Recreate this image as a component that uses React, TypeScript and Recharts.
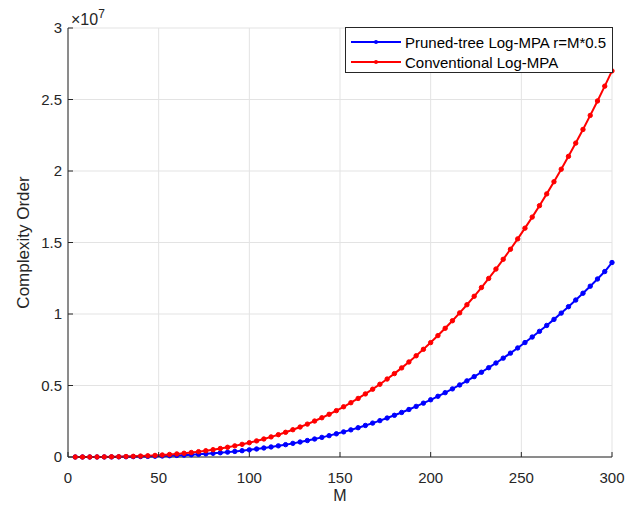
import {
  LineChart,
  Line,
  XAxis,
  YAxis,
  CartesianGrid,
} from "recharts";

// M values (4:4:300)
const mValues = [
  4, 8, 12, 16, 20, 24, 28, 32, 36, 40, 44, 48, 52, 56, 60, 64, 68, 72, 76, 80,
  84, 88, 92, 96, 100, 104, 108, 112, 116, 120, 124, 128, 132, 136, 140, 144,
  148, 152, 156, 160, 164, 168, 172, 176, 180, 184, 188, 192, 196, 200, 204,
  208, 212, 216, 220, 224, 228, 232, 236, 240, 244, 248, 252, 256, 260, 264,
  268, 272, 276, 280, 284, 288, 292, 296, 300,
];

// complexity, in millions
const prunedValues = [
  0.0, 0.0, 0.001, 0.002, 0.004, 0.007, 0.011, 0.016, 0.023, 0.032, 0.043,
  0.055, 0.07, 0.088, 0.108, 0.131, 0.157, 0.187, 0.219, 0.256, 0.296, 0.341,
  0.389, 0.442, 0.5, 0.562, 0.63, 0.702, 0.78, 0.864, 0.953, 1.049, 1.15,
  1.258, 1.372, 1.493, 1.621, 1.756, 1.898, 2.048, 2.205, 2.371, 2.544, 2.726,
  2.916, 3.115, 3.322, 3.539, 3.765, 4.0, 4.245, 4.499, 4.764, 5.039, 5.324,
  5.62, 5.926, 6.244, 6.572, 6.912, 7.263, 7.626, 8.002, 8.389, 8.788, 9.2,
  9.624, 10.062, 10.512, 10.976, 11.453, 11.944, 12.449, 12.967, 13.6,
];

const conventionalValues = [
  0.0, 0.001, 0.002, 0.004, 0.008, 0.014, 0.022, 0.033, 0.047, 0.064, 0.085,
  0.111, 0.141, 0.176, 0.216, 0.262, 0.314, 0.373, 0.439, 0.512, 0.593, 0.681,
  0.779, 0.885, 1.0, 1.125, 1.26, 1.405, 1.561, 1.728, 1.907, 2.097, 2.3,
  2.515, 2.744, 2.986, 3.242, 3.512, 3.796, 4.096, 4.411, 4.742, 5.088, 5.452,
  5.832, 6.23, 6.645, 7.078, 7.53, 8.0, 8.49, 8.999, 9.528, 10.078, 10.648,
  11.239, 11.852, 12.487, 13.144, 13.824, 14.527, 15.253, 16.003, 16.777,
  17.576, 18.4, 19.249, 20.124, 21.025, 21.952, 22.906, 23.888, 24.897,
  25.934, 27.0,
];

const xTicks = [0, 50, 100, 150, 200, 250, 300];
const yTicks = [0, 5, 10, 15, 20, 25, 30];

const seriesNames = ["Pruned-tree Log-MPA r=M*0.5", "Conventional Log-MPA"];
const seriesColors = ["#0000ff", "#ff0000"];

const data = mValues.map((m, i) => ({
  M: m,
  pruned: prunedValues[i],
  conventional: conventionalValues[i],
}));

const FONT = "'Liberation Sans', Arial, Helvetica, sans-serif";
const AXIS = "#262626";

const tickStyle = { fill: AXIS, fontSize: 15, fontFamily: FONT };

export default function App() {
  return (
    <div
      style={{
        position: "absolute",
        left: 0,
        top: 0,
        width: 635,
        height: 510,
        background: "#fff",
        fontFamily: FONT,
      }}
    >
      <LineChart
        width={635}
        height={510}
        data={data}
        margin={{ top: 28, right: 23, left: 8, bottom: 8 }}
      >
        <CartesianGrid stroke="#e3e3e3" strokeWidth={1} xAxisId="bottom" yAxisId="left" />
        <XAxis
          xAxisId="bottom"
          dataKey="M"
          type="number"
          domain={[0, 300]}
          ticks={xTicks}
          height={45}
          tickSize={-5}
          tickMargin={20}
          stroke={AXIS}
          tick={tickStyle}
          label={{
            value: "M",
            position: "insideBottom",
            offset: 1,
            fill: AXIS,
            fontSize: 16,
            fontFamily: FONT,
          }}
        />
        <XAxis
          xAxisId="top"
          dataKey="M"
          type="number"
          orientation="top"
          domain={[0, 300]}
          ticks={xTicks}
          height={0}
          tickSize={-5}
          stroke={AXIS}
          tickFormatter={() => ""}
        />
        <YAxis
          yAxisId="left"
          type="number"
          domain={[0, 30]}
          ticks={yTicks}
          width={60}
          tickSize={-5}
          tickMargin={11}
          stroke={AXIS}
          tick={tickStyle}
          tickFormatter={(v: number) => String(v / 10)}
          label={{
            value: "Complexity Order",
            angle: -90,
            position: "insideLeft",
            offset: 15,
            fill: AXIS,
            fontSize: 17,
            fontFamily: FONT,
            style: { textAnchor: "middle" },
          }}
        />
        <YAxis
          yAxisId="right"
          type="number"
          orientation="right"
          domain={[0, 30]}
          ticks={yTicks}
          width={0}
          tickSize={-5}
          stroke={AXIS}
          tickFormatter={() => ""}
        />
        <Line
          xAxisId="bottom"
          yAxisId="left"
          dataKey="pruned"
          name={seriesNames[0]}
          stroke={seriesColors[0]}
          strokeWidth={2}
          dot={{ r: 2.2, fill: seriesColors[0], stroke: seriesColors[0], strokeWidth: 1 }}
          isAnimationActive={false}
        />
        <Line
          xAxisId="bottom"
          yAxisId="left"
          dataKey="conventional"
          name={seriesNames[1]}
          stroke={seriesColors[1]}
          strokeWidth={2}
          dot={{ r: 2.2, fill: seriesColors[1], stroke: seriesColors[1], strokeWidth: 1 }}
          isAnimationActive={false}
        />
      </LineChart>

      {/* exponent above the y axis */}
      <div
        style={{
          position: "absolute",
          left: 71,
          top: 11,
          fontSize: 16,
          color: AXIS,
          lineHeight: "18px",
          whiteSpace: "nowrap",
        }}
      >
        ×10<sup style={{ fontSize: 12, verticalAlign: "7px", lineHeight: 0 }}>7</sup>
      </div>

      {/* legend */}
      <div
        style={{
          position: "absolute",
          left: 345,
          top: 27,
          width: 268,
          height: 46,
          border: `1px solid ${AXIS}`,
          background: "#fff",
          boxSizing: "border-box",
          paddingTop: 4,
        }}
      >
        {seriesNames.map((name, i) => (
          <div
            key={name}
            style={{
              display: "flex",
              alignItems: "center",
              height: 20,
              fontSize: 15,
              color: "#000",
              whiteSpace: "nowrap",
            }}
          >
            <svg width={54} height={10} style={{ marginLeft: 5, flex: "none" }}>
              <line x1={0} y1={5} x2={50} y2={5} stroke={seriesColors[i]} strokeWidth={2} />
              <circle cx={25} cy={5} r={2} fill={seriesColors[i]} />
            </svg>
            <span>{name}</span>
          </div>
        ))}
      </div>
    </div>
  );
}
